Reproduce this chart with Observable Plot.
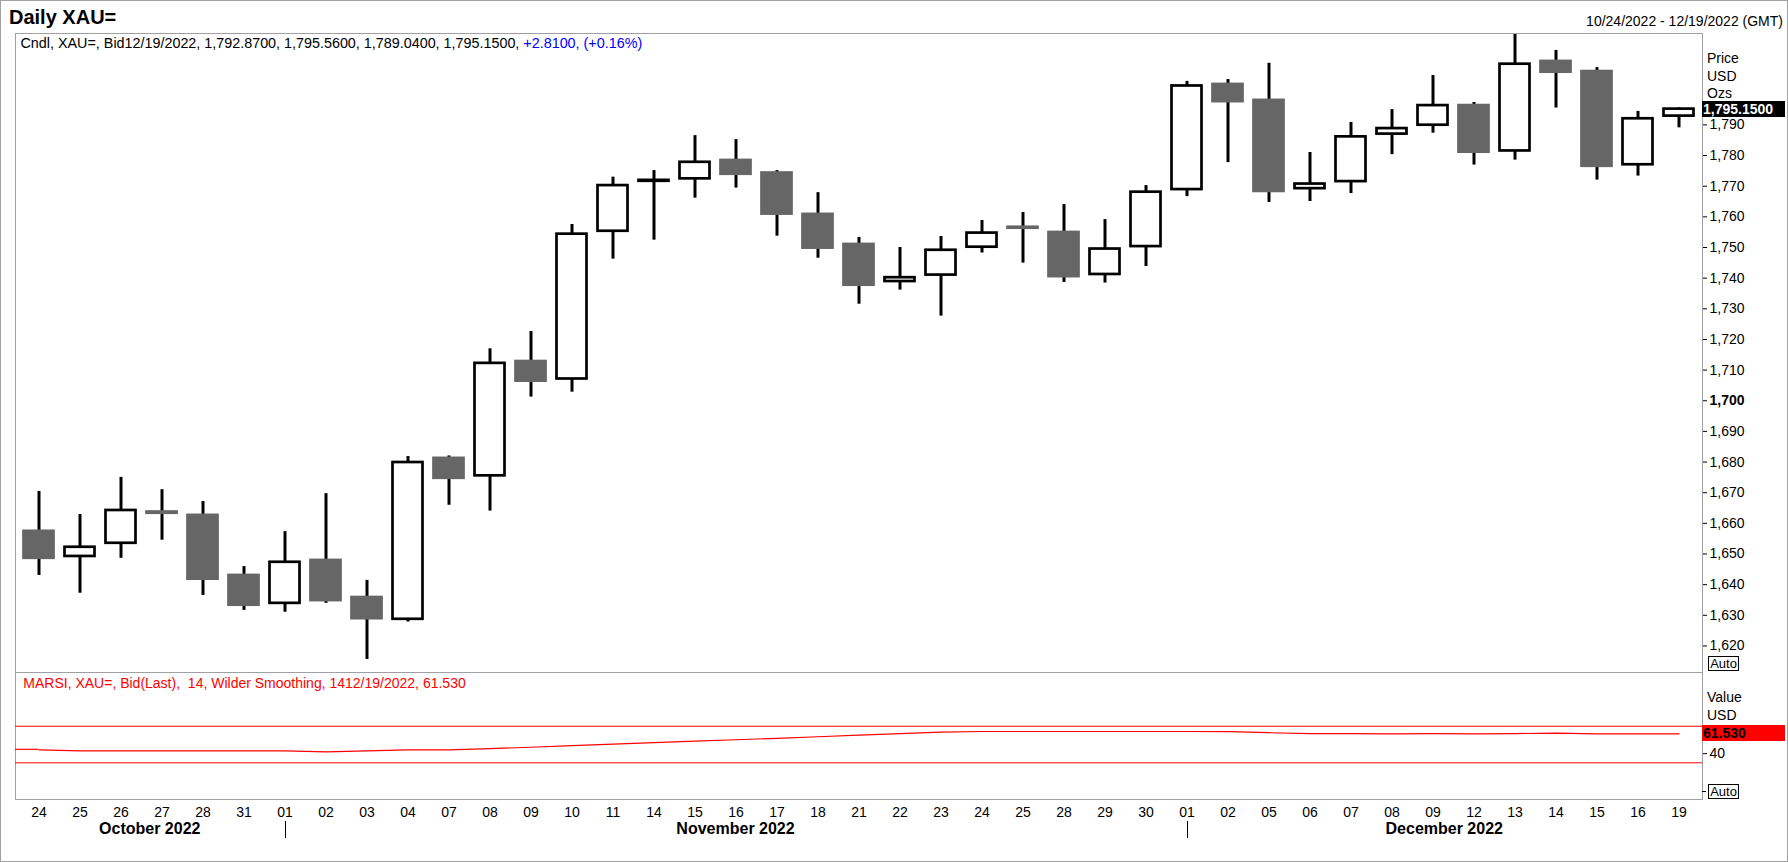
<!DOCTYPE html>
<html><head><meta charset="utf-8">
<script src="https://cdn.jsdelivr.net/npm/d3@7"></script>
<script src="https://cdn.jsdelivr.net/npm/@observablehq/plot@0.6"></script>
<style>
html,body{margin:0;padding:0;background:#fff;}
#wrap{position:relative;width:1788px;height:862px;overflow:hidden;font-family:"Liberation Sans",Arial,sans-serif;color:#000;}
#wrap svg{overflow:visible;position:absolute;left:0;}
.abs{position:absolute;white-space:pre;line-height:1;}
.box{position:absolute;white-space:pre;line-height:1;}
</style></head><body><div id="wrap"></div>
<script>
// ---------- data ----------
const dates = ["2022-10-24","2022-10-25","2022-10-26","2022-10-27","2022-10-28","2022-10-31",
"2022-11-01","2022-11-02","2022-11-03","2022-11-04","2022-11-07","2022-11-08","2022-11-09","2022-11-10",
"2022-11-11","2022-11-14","2022-11-15","2022-11-16","2022-11-17","2022-11-18","2022-11-21","2022-11-22",
"2022-11-23","2022-11-24","2022-11-25","2022-11-28","2022-11-29","2022-11-30","2022-12-01","2022-12-02",
"2022-12-05","2022-12-06","2022-12-07","2022-12-08","2022-12-09","2022-12-12","2022-12-13","2022-12-14",
"2022-12-15","2022-12-16","2022-12-19"];
const open  = [1657.4,1649.2,1653.5,1663.7,1662.6,1643.0,1633.9,1647.9,1635.8,1628.7,1681.2,1675.5,1712.8,1707.1,
1755.3,1771.6,1772.4,1778.4,1774.3,1760.8,1751.0,1738.9,1741.0,1750.1,1756.6,1754.9,1741.2,1750.3,1768.9,1803.2,
1798.0,1769.2,1771.5,1787.0,1789.9,1796.3,1781.5,1810.7,1807.4,1777.0,1792.87];
const high  = [1670.4,1662.9,1675.0,1671.0,1667.1,1645.9,1657.3,1669.7,1641.4,1681.8,1682.0,1716.95,1722.6,1757.5,
1772.95,1775.1,1786.5,1785.2,1775.1,1767.9,1753.3,1750.0,1753.6,1758.8,1761.4,1764.0,1759.1,1770.2,1804.2,1804.8,
1810.1,1781.0,1790.8,1795.0,1806.1,1797.3,1819.5,1814.3,1808.7,1794.4,1795.56];
const low   = [1643.0,1637.2,1648.6,1654.5,1636.5,1631.6,1631.0,1633.9,1615.6,1627.8,1665.9,1664.0,1701.2,1702.8,
1746.2,1752.4,1766.1,1769.4,1753.7,1746.5,1731.5,1736.1,1727.6,1748.2,1744.9,1738.6,1738.4,1743.8,1766.6,1777.7,
1764.7,1765.0,1767.6,1780.3,1787.3,1776.9,1778.5,1795.5,1772.0,1773.3,1789.04];
const close = [1648.6,1652.2,1664.2,1663.3,1641.8,1633.3,1647.3,1634.8,1628.9,1679.85,1674.7,1712.2,1706.4,1754.35,
1770.2,1771.9,1777.8,1773.9,1760.9,1749.8,1737.7,1740.15,1749.1,1754.7,1756.3,1740.5,1749.5,1768.05,1802.7,1797.6,
1768.3,1770.7,1786.1,1788.8,1796.3,1781.1,1809.8,1807.2,1776.5,1792.0,1795.15];
const rsi = [44.2,43.1,43.1,43.1,43.1,43.1,43.1,42.0,43.1,44.2,44.2,45.5,47.0,48.7,50.4,52.0,53.6,55.2,56.8,58.5,
60.2,61.9,63.6,64.2,64.2,64.2,64.2,64.2,64.2,64.0,62.9,61.9,61.8,61.7,61.8,61.6,61.9,62.5,61.7,61.6,61.53];
const rsiBands = [70, 30];
const priceTicks = [1620,1630,1640,1650,1660,1670,1680,1690,1700,1710,1720,1730,1740,1750,1760,1770,1780,1790];
const rsiTicks = [40];
const months = ["October 2022","November 2022","December 2022"];
const legendBlack = "Cndl, XAU=, Bid12/19/2022, 1,792.8700, 1,795.5600, 1,789.0400, 1,795.1500, ";
const legendBlue = "+2.8100, (+0.16%)";
const rsiLegend = "MARSI, XAU=, Bid(Last),  14, Wilder Smoothing, 1412/19/2022, 61.530";
const title = "Daily XAU=";
const rangeText = "10/24/2022 - 12/19/2022 (GMT)";

// ---------- build ----------
const candles = dates.map((d,i)=>({date:d, open:open[i], high:high[i], low:low[i], close:close[i]}));
const rsiData = dates.map((d,i)=>({date:d, rsi:rsi[i]}));
const FONT = "Liberation Sans, Arial, sans-serif";
const FRAME = "#a0a0a4";
const wrap = document.getElementById("wrap");

const W = 1788, ML = 15, MR = 86;
const priceTop = 32;
const price = Plot.plot({
  width: W, height: 641, marginTop: 1, marginBottom: 1, marginLeft: ML, marginRight: MR,
  x: {type: "band", domain: dates, padding: 0, axis: null},
  y: {domain: [1611.34, 1819.82], axis: null},
  color: {type: "identity"},
  style: {fontFamily: FONT, fontSize: "14px", background: "transparent", color: "black"},
  marks: [
    Plot.frame({stroke: FRAME}),
    Plot.axisY(priceTicks.filter(v => v !== 1700), {anchor: "right", tickSize: 4, tickPadding: 3, tickFormat: d3.format(","), fontSize: 14, label: null}),
    Plot.axisY(priceTicks.filter(v => v === 1700), {anchor: "right", tickSize: 4, tickPadding: 3, tickFormat: d3.format(","), fontSize: 14, fontWeight: "bold", label: null}),
    Plot.ruleX(candles, {x: "date", y1: "low", y2: "high", stroke: "black", strokeWidth: 3}),
    Plot.barY(candles, {x: "date", y1: "open", y2: "close",
      fill: d => d.close >= d.open ? "white" : "#666666",
      stroke: d => d.close >= d.open ? "black" : "#666666",
      strokeWidth: 2.7, insetLeft: 5.5, insetRight: 5.5})
  ]
});
price.style.top = priceTop + "px";
wrap.appendChild(price);

const rsiTop = 671;
const rsiChart = Plot.plot({
  width: W, height: 191, marginTop: 1, marginBottom: 63, marginLeft: ML, marginRight: MR,
  x: {type: "band", domain: dates, padding: 0, axis: null},
  y: {domain: [-10.1, 128.7], axis: null},
  style: {fontFamily: FONT, fontSize: "14px", background: "transparent", color: "black"},
  marks: [
    Plot.frame({stroke: FRAME}),
    Plot.ruleY(rsiBands, {stroke: "#ff0000", strokeWidth: 1}),
    Plot.line(rsiData, {x: "date", y: "rsi", stroke: "#ff0000", strokeWidth: 1.2}),
    Plot.axisY(rsiTicks, {anchor: "right", tickSize: 4, tickPadding: 3, fontSize: 14, label: null}),
    Plot.axisX({anchor: "bottom", tickSize: 0, tickPadding: 8, tickFormat: d => d.slice(8), fontSize: 14, label: null})
  ]
});
rsiChart.style.top = rsiTop + "px";
wrap.appendChild(rsiChart);

// ---------- html text ----------
function addText(txt, x, yc, size, o = {}) {
  const el = document.createElement("div");
  el.className = "abs";
  el.textContent = txt;
  el.style.fontSize = size + "px";
  el.style.top = (yc - 0.49 * size) + "px";
  if (o.bold) el.style.fontWeight = "bold";
  if (o.color) el.style.color = o.color;
  if (o.anchor === "middle") { el.style.left = x + "px"; el.style.transform = "translateX(-50%)"; }
  else if (o.anchor === "end") { el.style.right = (W - x) + "px"; }
  else el.style.left = x + "px";
  wrap.appendChild(el);
  return el;
}
function addBox(txt, yc, bg, fg) {
  const el = document.createElement("div");
  el.className = "box";
  el.textContent = txt;
  el.style.left = (W - MR) + "px";
  el.style.width = (1785 - (W - MR) - 1) + "px";
  el.style.height = "16px";
  el.style.top = (yc - 8) + "px";
  el.style.background = bg;
  el.style.color = fg;
  el.style.fontWeight = "bold";
  el.style.fontSize = "14px";
  el.style.lineHeight = "16px";
  el.style.paddingLeft = "1px";
  wrap.appendChild(el);
}
function addAuto(yc) {
  const el = document.createElement("div");
  el.className = "box";
  el.textContent = "Auto";
  el.style.left = "1708px";
  el.style.top = (yc - 7.5) + "px";
  el.style.width = "29px";
  el.style.height = "13px";
  el.style.border = "1px solid black";
  el.style.fontSize = "13px";
  el.style.lineHeight = "13px";
  el.style.textAlign = "center";
  wrap.appendChild(el);
}

// month separators & labels from the x scale
const xs = rsiChart.scale("x");
const bw = xs.bandwidth;
const cx = d => xs.apply(d) + bw / 2;
const ry = rsiChart.scale("y");
const svgSel = d3.select(rsiChart);
// RSI line continues in from the left edge of the panel (earlier history)
svgSel.append("line").attr("x1", ML).attr("x2", cx(dates[0]))
  .attr("y1", ry.apply(rsi[0])).attr("y2", ry.apply(rsi[0]))
  .attr("stroke", "#ff0000").attr("stroke-width", 1.2);
const monthFirst = [];
dates.forEach((d,i) => { if (i === 0 || d.slice(0,7) !== dates[i-1].slice(0,7)) monthFirst.push(i); });
monthFirst.forEach((idx, m) => {
  if (m > 0) {
    svgSel.append("line").attr("x1", Math.round(cx(dates[idx]))+0.5).attr("x2", Math.round(cx(dates[idx]))+0.5)
      .attr("y1", 150).attr("y2", 167).attr("stroke", "black").attr("stroke-width", 1);
  }
  const left = m === 0 ? ML : cx(dates[idx]);
  const right = m < monthFirst.length - 1 ? cx(dates[monthFirst[m+1]]) : W - MR;
  addText(months[m], (left + right) / 2, 829, 16, {bold: true, anchor: "middle"});
});

addText(title, 9, 17, 20, {bold: true});
addText(rangeText, 1783, 21, 14, {anchor: "end"});
const lg = addText(legendBlack, 20.5, 43.3, 14.35);
const blue = document.createElement("span"); blue.textContent = legendBlue; blue.style.color = "#0000ff"; lg.appendChild(blue);
addText("Price", 1707, 58, 14);
addText("USD", 1707, 76, 14);
addText("Ozs", 1707, 93, 14);
const ys = price.scale("y");
addBox(d3.format(",.4f")(close[close.length-1]), priceTop + ys.apply(close[close.length-1]), "#000", "#fff");
addAuto(663);
addText(rsiLegend, 23.3, 682.7, 14, {color: "#ff0000"});
addText("Value", 1707, 697, 14);
addText("USD", 1707, 715, 14);
addBox(d3.format(".3f")(rsi[rsi.length-1]), rsiTop + ry.apply(rsi[rsi.length-1]), "#ff0000", "#000");
addAuto(791);
const tk = document.createElement("div");
tk.style.cssText = "position:absolute;left:1702px;top:791px;width:4px;height:1px;background:#000;";
wrap.appendChild(tk);

// outer border
const bd = document.createElement("div");
bd.style.cssText = "position:absolute;left:0;top:0;width:1786px;height:860px;border:1px solid #a0a0a0;pointer-events:none;";
wrap.appendChild(bd);
</script></body></html>
